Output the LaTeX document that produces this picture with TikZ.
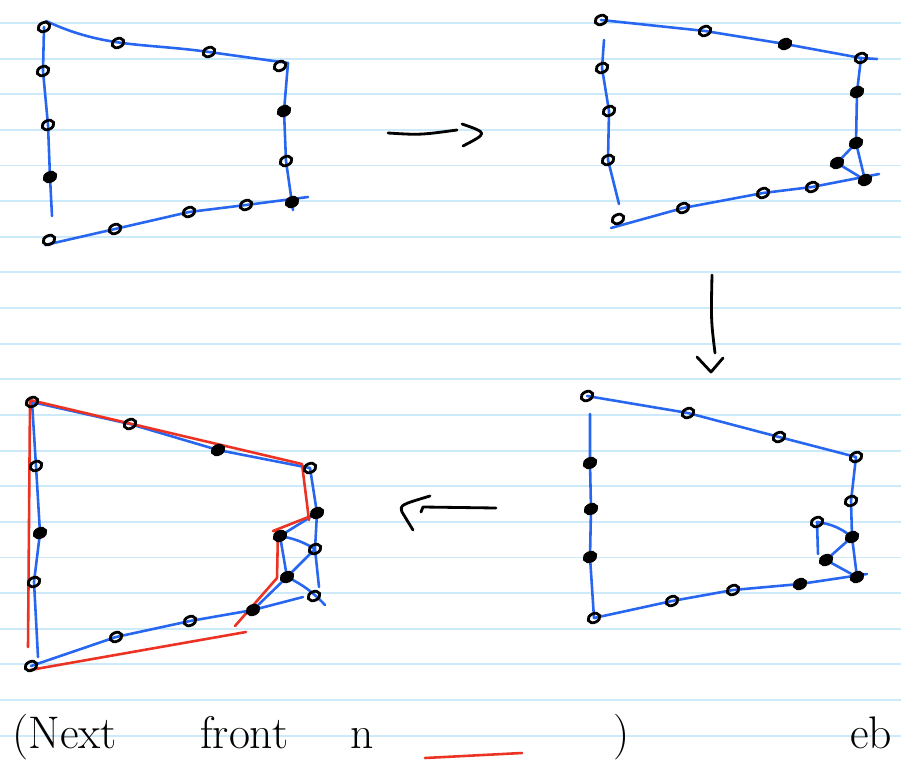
\documentclass[tikz,border=0pt]{standalone}
\usepackage{fontspec}
\usetikzlibrary{shapes.geometric,backgrounds}
\definecolor{penblue}{RGB}{38,102,240}
\definecolor{penred}{RGB}{235,50,35}
\definecolor{ruleblue}{RGB}{204,234,250}
\tikzstyle{vertex}=[ellipse, draw=black, line width=2.4pt, minimum width=10.5pt, minimum height=7.5pt, inner sep=0pt, rotate=25]
\tikzstyle{dot}=[vertex, fill=black]
\tikzstyle{edge}=[penblue, line width=2.2pt, line cap=round, line join=round]
\tikzstyle{redge}=[penred, line width=2.2pt, line cap=round, line join=round]
\tikzstyle{ink}=[black, line width=2.4pt, line cap=round, line join=round]
\tikzstyle{rule}=[ruleblue, line width=1.6pt]
\tikzstyle{hand}=[font=\fontsize{39}{42}\selectfont, anchor=base west, inner sep=0pt]

\begin{document}
\begin{tikzpicture}[x=0.03cm, y=-0.03cm]
\useasboundingbox (0,0) rectangle (901,761);

% first sketch
\node[vertex] (a0) at (44,27) {};
\node[vertex] (a1) at (118,43) {};
\node[vertex] (a2) at (209,52) {};
\node[vertex] (a3) at (280,66) {};
\node[vertex] (a4) at (43,71) {};
\node[vertex] (a5) at (48,125) {};
\node[dot] (a6) at (50,177) {};
\node[vertex] (a7) at (49,240) {};
\node[vertex] (a8) at (115,229) {};
\node[vertex] (a9) at (189,212) {};
\node[vertex] (a10) at (246,205) {};
\node[dot] (a11) at (292,202) {};
\node[dot] (a12) at (284,111) {};
\node[vertex] (a13) at (286,161) {};
\coordinate (a00) at (46,21);
\coordinate (a30) at (288,63);
\coordinate (a60) at (52,216);
\coordinate (a70) at (45,245);
\coordinate (a110) at (308,197);
\coordinate (a111) at (293,210);

% second sketch
\node[vertex] (b0) at (601,20) {};
\node[vertex] (b1) at (705,31) {};
\node[dot] (b2) at (785,44) {};
\node[vertex] (b3) at (861,58) {};
\node[vertex] (b4) at (602,68) {};
\node[vertex] (b5) at (609,111) {};
\node[vertex] (b6) at (608,160) {};
\node[vertex] (b7) at (618,219) {};
\node[vertex] (b8) at (683,208) {};
\node[vertex] (b9) at (763,193) {};
\node[vertex] (b10) at (812,187) {};
\node[dot] (b11) at (865,180) {};
\node[dot] (b12) at (857,92) {};
\node[dot] (b13) at (856,143) {};
\node[dot] (b14) at (837,163) {};
\coordinate (b30) at (877,59);
\coordinate (b40) at (604,40);
\coordinate (b60) at (619,204);
\coordinate (b70) at (611,228);
\coordinate (b110) at (879,174);

% third sketch
\node[vertex] (c0) at (587,396) {};
\node[vertex] (c1) at (688,413) {};
\node[vertex] (c2) at (779,437) {};
\node[vertex] (c3) at (856,457) {};
\node[dot] (c4) at (590,463) {};
\node[dot] (c5) at (591,509) {};
\node[dot] (c6) at (590,557) {};
\node[vertex] (c7) at (594,618) {};
\node[vertex] (c8) at (672,601) {};
\node[vertex] (c9) at (733,590) {};
\node[dot] (c10) at (800,584) {};
\node[dot] (c11) at (857,577) {};
\node[vertex] (c12) at (851,501) {};
\node[dot] (c13) at (852,537) {};
\node[vertex] (c14) at (817,522) {};
\node[dot] (c15) at (826,560) {};
\coordinate (c40) at (590,414);
\coordinate (c110) at (867,574);
\coordinate (c140) at (818,554);

% fourth sketch
\node[vertex] (d0) at (32,402) {};
\node[vertex] (d1) at (130,424) {};
\node[dot] (d2) at (218,450) {};
\node[vertex] (d3) at (310,468) {};
\node[vertex] (d4) at (36,466) {};
\node[dot] (d5) at (40,533) {};
\node[vertex] (d6) at (34,582) {};
\node[vertex] (d7) at (31,666) {};
\node[vertex] (d8) at (116,637) {};
\node[vertex] (d9) at (190,621) {};
\node[dot] (d10) at (253,610) {};
\node[dot] (d11) at (317,513) {};
\node[dot] (d12) at (280,536) {};
\node[vertex] (d13) at (315,549) {};
\node[dot] (d14) at (287,577) {};
\node[vertex] (d15) at (314,596) {};
\coordinate (d60) at (38,657);
\coordinate (d100) at (303,597);
\coordinate (d130) at (319,587);
\coordinate (d140) at (325,605);

\begin{pgfonlayer}{background}
\fill[white] (0,0) rectangle (901,761);
\foreach \k in {0,...,20}
  \draw[rule] (0,{23+35.63*\k}) -- (901,{23+35.63*\k});

\draw[edge] (a00) to[out=-25,in=172] (a2.center) -- (a30);
\draw[edge] (a0.center) -- (a4.center) -- (a5.center) -- (a6.center) -- (a60);
\draw[edge] (a70) -- (a8.center) -- (a9.center) -- (a10.center) -- (a110);
\draw[edge] (a30) -- (a12.center) -- (a13.center) -- (a111);

\draw[edge] (b0.center) -- (b1.center) -- (b2.center) -- (b3.center) -- (b30);
\draw[edge] (b40) -- (b4.center) -- (b5.center) -- (b6.center) -- (b60);
\draw[edge] (b70) -- (b8.center) -- (b9.center) -- (b10.center) -- (b110);
\draw[edge] (b3.center) -- (b12.center) -- (b13.center) -- (b11.center);
\draw[edge] (b13.center) -- (b14.center) -- (b11.center);

\draw[edge] (c0.center) -- (c1.center) -- (c2.center) -- (c3.center);
\draw[edge] (c40) -- (c4.center) -- (c5.center) -- (c6.center) -- (c7.center);
\draw[edge] (c7.center) -- (c8.center) -- (c9.center) -- (c10.center) -- (c110);
\draw[edge] (c3.center) -- (c12.center) -- (c13.center) -- (c11.center);
\draw[edge] (c140) -- (c14.center) to[bend left=15] (c13.center) -- (c15.center) -- (c11.center);

\draw[edge] (d0.center) -- (d1.center) -- (d2.center) -- (d3.center);
\draw[edge] (d0.center) -- (d4.center) -- (d5.center) -- (d6.center) -- (d60);
\draw[edge] (d7.center) -- (d8.center) -- (d9.center) -- (d10.center) -- (d100);
\draw[edge] (d3.center) -- (d11.center) -- (d13.center) -- (d130);
\draw[edge] (d11.center) -- (d12.center) -- (d14.center) -- (d10.center);
\draw[edge] (d12.center) to[bend left=10] (d13.center);
\draw[edge] (d14.center) -- (d13.center);
\draw[edge] (d14.center) to[bend left=10] (d140);

% red outline
\draw[redge] (28,647) -- (30,400) -- (302,464) -- (309,520);
\draw[redge] (311,516) -- (273,531) -- (278,531) -- (277,578) -- (235,626);
\draw[redge] (30,670) -- (246,632);
\draw[redge] (425,758) -- (522,753);
\end{pgfonlayer}

% arrows between sketches
\draw[ink] (388,133) .. controls (420,135) .. (457,130);
\draw[ink] (462,124) .. controls (488,133) .. (463,146);
\draw[ink] (712,275) .. controls (711,320) .. (715,353);
\draw[ink] (697,357) -- (711,372) -- (723,358);
\draw[ink] (496,508) -- (423,507) -- (421,512);
\draw[ink] (430,496) .. controls (400,505) .. (402,512) -- (413,530);

% note
\node[hand] (t0) at (12,748) {(Next};
\node[hand] (t1) at (200,748) {front};
\node[hand] (t2) at (350,748) {n};
\node[hand] (t3) at (613,748) {)};
\node[hand] (t4) at (850,748) {eb};
\end{tikzpicture}
\end{document}
